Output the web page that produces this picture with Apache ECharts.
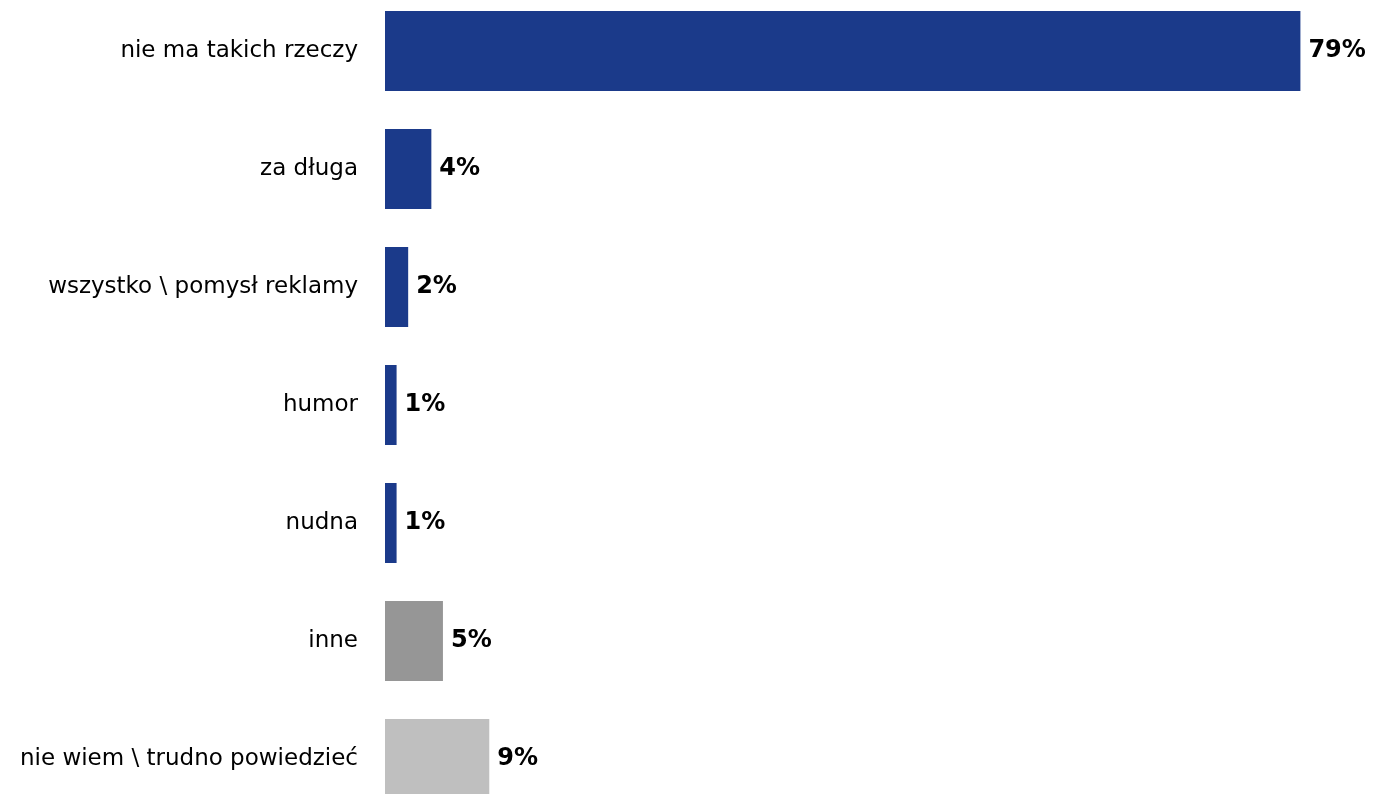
<!DOCTYPE html>
<html>
<head>
<meta charset="utf-8">
<script src="https://cdn.jsdelivr.net/npm/echarts@6/dist/echarts.min.js"></script>
<style>
  html, body { margin: 0; padding: 0; background: #ffffff; overflow: hidden; width: 1375px; height: 794px; }
  /* the plot is taller than the page; its bottom row is cut off by the page edge */
  #chart { position: absolute; left: 0; top: -8px; width: 1375px; height: 826px; }
</style>
</head>
<body>
<div id="chart"></div>
<script>
// Answer categories, top to bottom
const categories = [
  'nie ma takich rzeczy',
  'za długa',
  'wszystko \\ pomysł reklamy',
  'humor',
  'nudna',
  'inne',
  'nie wiem \\ trudno powiedzieć'
];
// Share of respondents, in percent
const values = [79, 4, 2, 1, 1, 5, 9];
// Fill per bar: substantive answers, other, don't know
const barColors = ['#1B3A8A', '#1B3A8A', '#1B3A8A', '#1B3A8A', '#1B3A8A', '#969696', '#BFBFBF'];

const FONT = '"DejaVu Sans", Verdana, sans-serif';

const chart = echarts.init(document.getElementById('chart'), null, { renderer: 'canvas' });
chart.setOption({
  animation: false,
  backgroundColor: '#ffffff',
  grid: { left: 385, right: 63, top: 0, bottom: 0, containLabel: false },
  xAxis: {
    type: 'value', min: 0, max: 80,
    show: false
  },
  yAxis: {
    type: 'category',
    data: categories,
    inverse: true,
    axisLine: { show: false },
    axisTick: { show: false },
    axisLabel: {
      margin: 27,
      color: '#000000',
      fontFamily: FONT,
      fontSize: 23
    }
  },
  series: [{
    type: 'bar',
    barWidth: 80,
    data: values.map((v, i) => ({ value: v, itemStyle: { color: barColors[i] } })),
    label: {
      show: true,
      position: 'right',
      distance: 8,
      formatter: '{c}%',
      color: '#000000',
      fontFamily: FONT,
      fontWeight: 'bold',
      fontSize: 24
    }
  }]
});
</script>
</body>
</html>
